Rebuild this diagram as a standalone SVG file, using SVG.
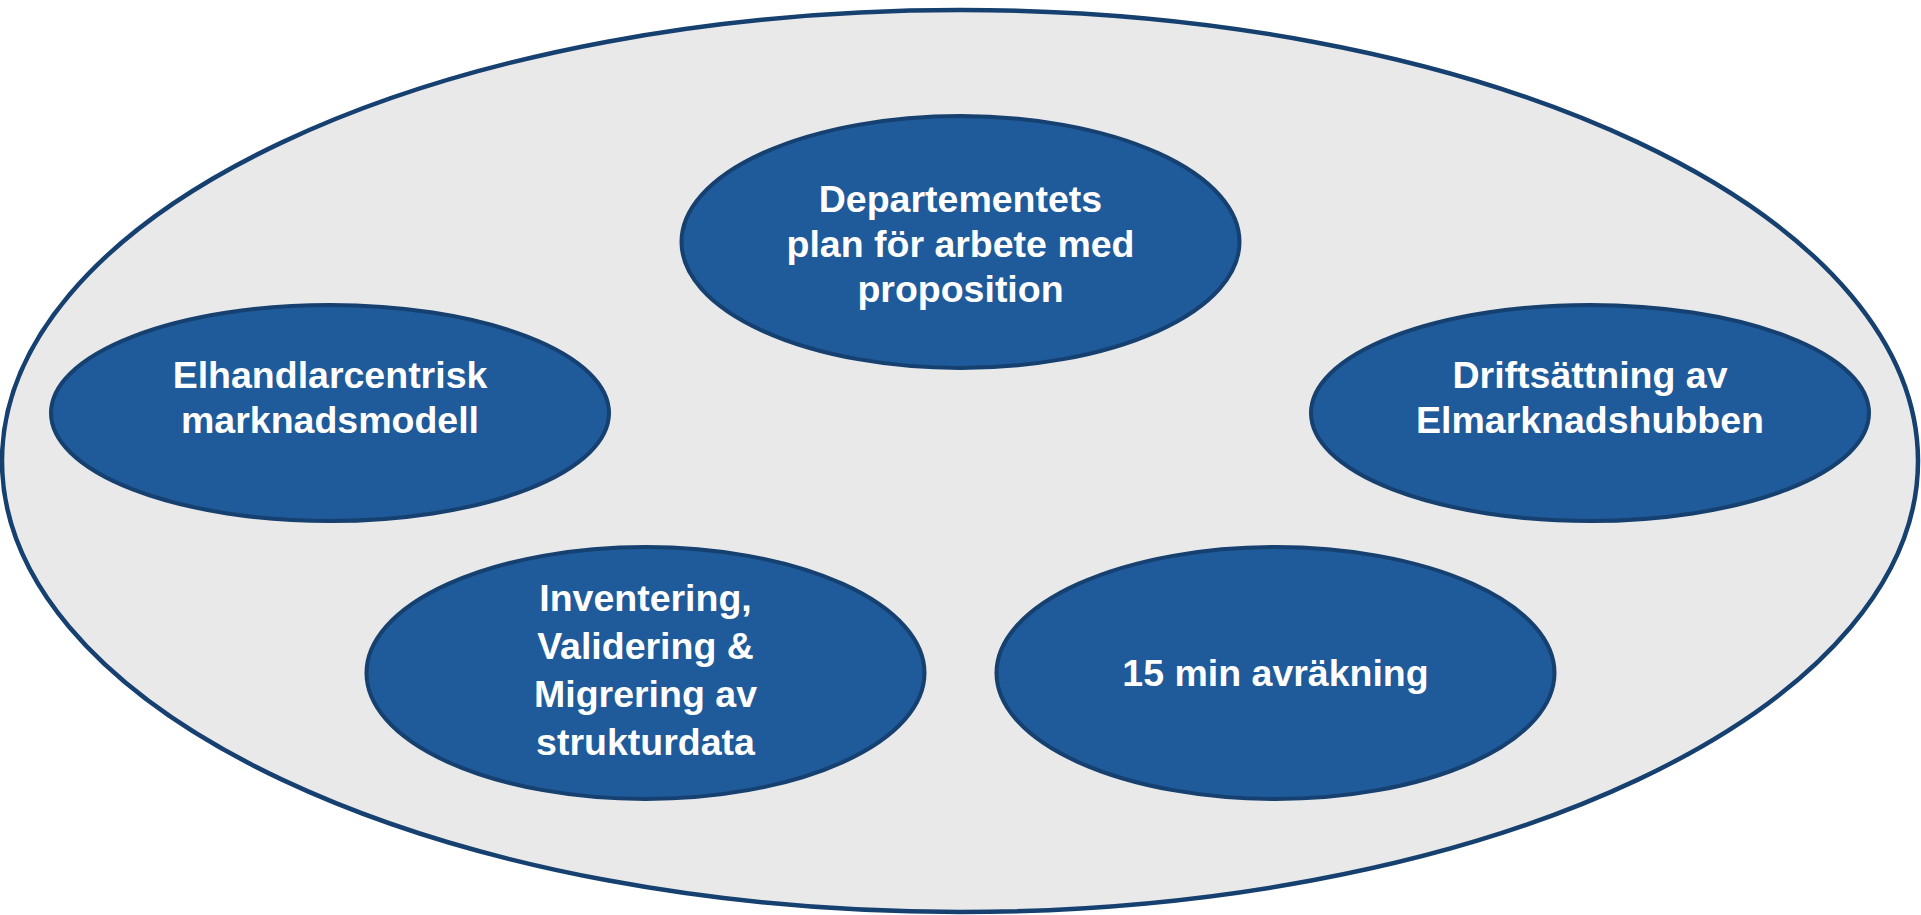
<svg xmlns="http://www.w3.org/2000/svg" width="1921" height="915" viewBox="0 0 1921 915">
  <style>
    .frame { fill: #E9E9E9; stroke: #15406F; stroke-width: 4.5; }
    .node ellipse { fill: #1F5A9A; stroke: #15406F; stroke-width: 4; }
    .node text { fill: #FFFFFF; font-family: "Liberation Sans", Arial, sans-serif; font-weight: bold; font-size: 37.5px; text-anchor: middle; }
  </style>
  <rect width="1921" height="915" fill="#FFFFFF"/>
  <!-- enclosing area -->
  <ellipse class="frame" cx="960" cy="461" rx="958" ry="451"/>
  <g id="connectors"></g>
  <g id="node-departementet" class="node">
    <ellipse cx="960.5" cy="242" rx="279" ry="126"/>
    <text x="960.5" y="212">Departementets</text>
    <text x="960.5" y="257">plan för arbete med</text>
    <text x="960.5" y="302">proposition</text>
  </g>
  <g id="node-elhandlarcentrisk" class="node">
    <ellipse cx="330" cy="413" rx="279" ry="108"/>
    <text x="330" y="388">Elhandlarcentrisk</text>
    <text x="330" y="433">marknadsmodell</text>
  </g>
  <g id="node-driftsattning" class="node">
    <ellipse cx="1590" cy="413" rx="279" ry="108"/>
    <text x="1590" y="388">Driftsättning av</text>
    <text x="1590" y="433">Elmarknadshubben</text>
  </g>
  <g id="node-strukturdata" class="node">
    <ellipse cx="645.5" cy="673" rx="279" ry="126"/>
    <text x="645.5" y="611">Inventering,</text>
    <text x="645.5" y="659">Validering &amp;</text>
    <text x="645.5" y="707">Migrering av</text>
    <text x="645.5" y="755">strukturdata</text>
  </g>
  <g id="node-avrakning" class="node">
    <ellipse cx="1275.5" cy="673" rx="279" ry="126"/>
    <text x="1275.5" y="686">15 min avräkning</text>
  </g>
</svg>
